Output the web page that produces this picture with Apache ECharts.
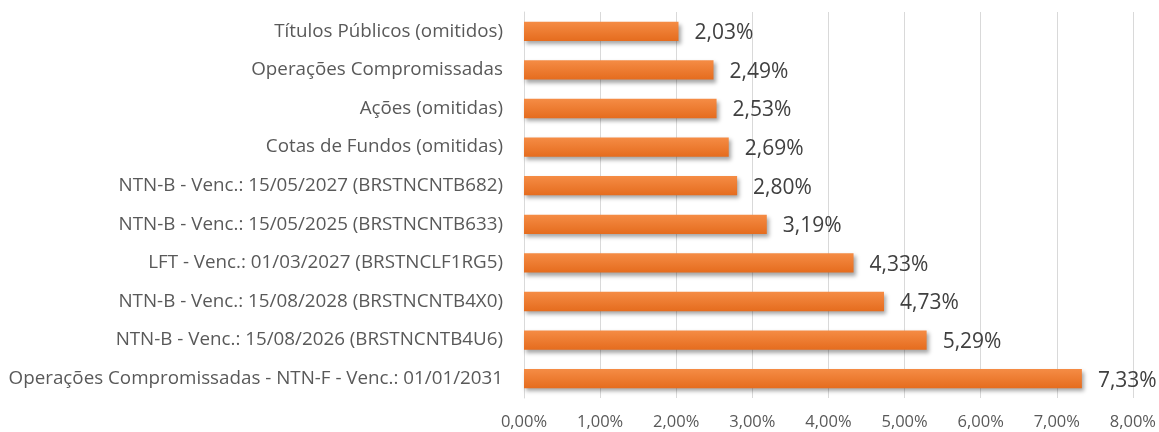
<!DOCTYPE html>
<html>
<head>
<meta charset="utf-8">
<script src="https://cdn.jsdelivr.net/npm/echarts@6/dist/echarts.min.js"></script>
<style>
  html, body { margin: 0; padding: 0; background: #fff; }
  #chart { width: 1159px; height: 432px; }
</style>
</head>
<body>
<div id="chart"></div>
<script>
// categorias de cima para baixo
const categories = [
    'Títulos Públicos (omitidos)',
    'Operações Compromissadas',
    'Ações (omitidas)',
    'Cotas de Fundos (omitidas)',
    'NTN-B - Venc.: 15/05/2027 (BRSTNCNTB682)',
    'NTN-B - Venc.: 15/05/2025 (BRSTNCNTB633)',
    'LFT - Venc.: 01/03/2027 (BRSTNCLF1RG5)',
    'NTN-B - Venc.: 15/08/2028 (BRSTNCNTB4X0)',
    'NTN-B - Venc.: 15/08/2026 (BRSTNCNTB4U6)',
    'Operações Compromissadas - NTN-F - Venc.: 01/01/2031'
];
const values = [2.03, 2.49, 2.53, 2.69, 2.80, 3.19, 4.33, 4.73, 5.29, 7.33];

const fmt = v => v.toFixed(2).replace('.', ',') + '%';
const FONT = '"Open Sans", Lato, sans-serif';

const chart = echarts.init(document.getElementById('chart'));
chart.setOption({
    animation: false,
    grid: { left: 524, right: 26, top: 12, bottom: 34, containLabel: false },
    xAxis: {
        type: 'value',
        min: 0, max: 8, interval: 1,
        axisLine: { show: false },
        axisTick: { show: false },
        splitLine: { lineStyle: { color: '#d9d9d9', width: 1 } },
        axisLabel: {
            formatter: v => fmt(v),
            color: '#595959', fontSize: 16.5, fontFamily: FONT, margin: 16
        }
    },
    yAxis: {
        type: 'category',
        data: categories,
        inverse: true,
        axisLine: { show: true, lineStyle: { color: '#d9d9d9' } },
        axisTick: { show: false },
        axisLabel: { color: '#595959', fontSize: 18.8, fontFamily: FONT, margin: 21 }
    },
    series: [{
        type: 'bar',
        data: values,
        barWidth: '50%',
        itemStyle: {
            color: new echarts.graphic.LinearGradient(0, 0, 0, 1, [
                { offset: 0, color: '#f58c45' },
                { offset: 1, color: '#e56c1e' }
            ]),
            shadowColor: 'rgba(0,0,0,0.35)',
            shadowBlur: 4,
            shadowOffsetX: 2,
            shadowOffsetY: 3
        },
        label: {
            show: true,
            position: 'right',
            distance: 16,
            offset: [0, 2],
            formatter: p => fmt(p.value),
            color: '#404040', fontSize: 21, fontFamily: FONT
        }
    }]
});
</script>
</body>
</html>
